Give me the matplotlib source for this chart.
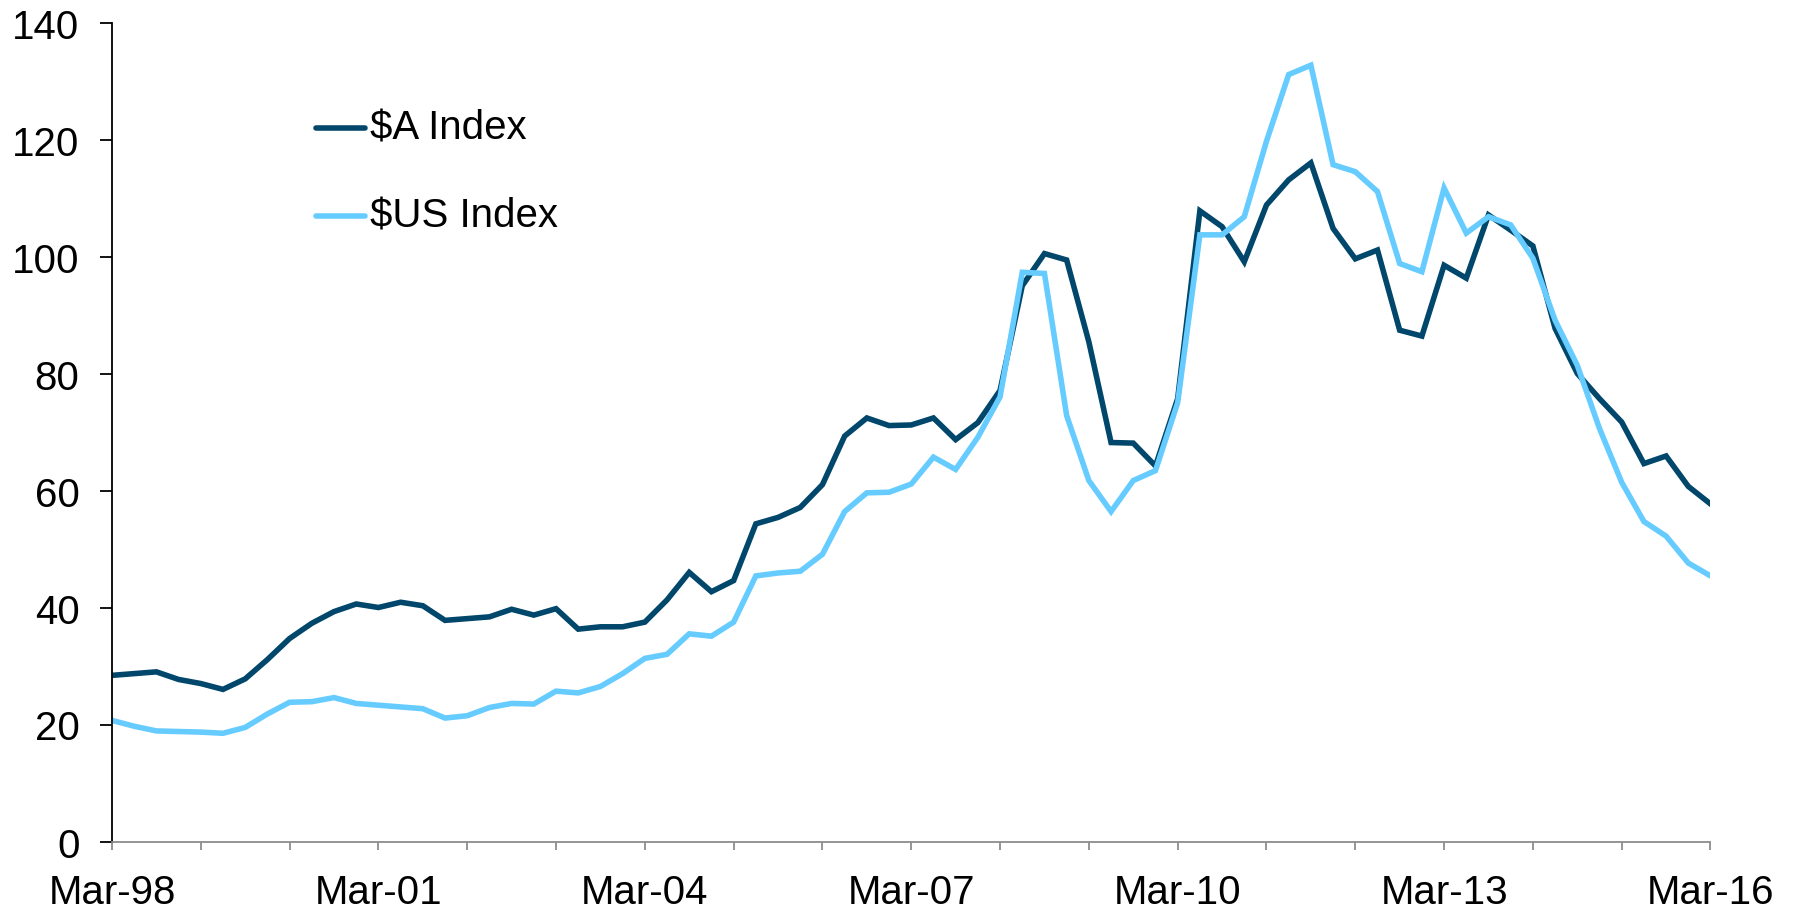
import matplotlib
matplotlib.use("Agg")
import matplotlib.pyplot as plt
from matplotlib.lines import Line2D

plt.rcParams['font.family'] = ['Liberation Sans', 'DejaVu Sans']

# Quarterly data, Mar-98 .. Mar-16
a_index = [28.4, 28.7, 29.0, 27.7, 27.0, 26.0, 27.8, 31.1, 34.7, 37.3,
           39.3, 40.6, 40.0, 40.9, 40.3, 37.8, 38.1, 38.4, 39.7, 38.7,
           39.8, 36.3, 36.7, 36.7, 37.5, 41.3, 46.0, 42.7, 44.6, 54.3,
           55.4, 57.1, 61.0, 69.3, 72.4, 71.1, 71.2, 72.4, 68.7, 71.6,
           77.1, 95.0, 100.5, 99.4, 85.4, 68.2, 68.1, 64.2, 75.7, 107.8,
           105.1, 99.1, 108.8, 113.1, 116.0, 104.8, 99.6, 101.1, 87.4, 86.4,
           98.5, 96.3, 107.1, 104.5, 101.8, 87.7, 80.0, 75.7, 71.7, 64.6,
           65.9, 60.7, 57.7]
us_index = [20.7, 19.7, 18.9, 18.8, 18.7, 18.5, 19.5, 21.8, 23.8, 23.9,
            24.6, 23.6, 23.3, 23.0, 22.7, 21.1, 21.5, 22.9, 23.6, 23.5,
            25.7, 25.4, 26.5, 28.7, 31.3, 32.0, 35.5, 35.1, 37.5, 45.4,
            45.9, 46.2, 49.1, 56.4, 59.6, 59.7, 61.1, 65.7, 63.6, 69.1,
            76.0, 97.3, 97.1, 72.8, 61.7, 56.4, 61.7, 63.4, 75.0, 103.7,
            103.7, 106.8, 119.7, 131.1, 132.7, 115.7, 114.5, 111.1, 98.8, 97.4,
            111.7, 104.0, 106.8, 105.4, 99.7, 89.1, 81.4, 70.6, 61.4, 54.7,
            52.2, 47.6, 45.4]
tick_labels = ["Mar-98", "Mar-01", "Mar-04", "Mar-07", "Mar-10", "Mar-13", "Mar-16"]
series_names = ["$A Index", "$US Index"]

W, H = 1793, 912
fig = plt.figure(figsize=(W / 100, H / 100), dpi=100)
ax = fig.add_axes([112 / W, 1 - 842.5 / H, (1710.5 - 112) / W, (842.5 - 23.5) / H])

dark = "#00476B"
light = "#66CCFF"
LW = 4.0
x = list(range(len(a_index)))
ax.plot(x, a_index, color=dark, lw=LW, solid_joinstyle='miter')
ax.plot(x, us_index, color=light, lw=LW, solid_joinstyle='miter')

ax.set_xlim(0, len(a_index) - 1)
ax.set_ylim(0, 140)
ax.set_yticks(range(0, 141, 20))

ax.set_xticks(range(0, len(a_index), 4))
labels = []
for i in range(0, len(a_index), 4):
    labels.append(tick_labels[i // 12] if i % 12 == 0 else "")
ax.set_xticklabels(labels)

for s in ['top', 'right']:
    ax.spines[s].set_visible(False)
ax.spines['left'].set_color('black')
ax.spines['left'].set_linewidth(1.3)
ax.spines['bottom'].set_color('#8C8C8C')
ax.spines['bottom'].set_linewidth(1.3)

ax.tick_params(axis='y', direction='out', length=8.4, width=1.3, color='black',
               labelsize=29, pad=15)
ax.tick_params(axis='x', direction='out', length=6, width=1.3, color='#8C8C8C',
               labelsize=29, pad=17)

# legend
ys = [129, 216.5]
for name, col, yy in zip(series_names, [dark, light], ys):
    fig.add_artist(Line2D([316 / W, 365 / W], [1 - yy / H, 1 - yy / H],
                          transform=fig.transFigure, color=col, lw=LW,
                          solid_capstyle='round'))
    fig.text(370 / W, 1 - yy / H, name.replace("$", r"\$"), fontsize=29,
             va='center', ha='left')

fig.savefig("out.png", dpi=100)
